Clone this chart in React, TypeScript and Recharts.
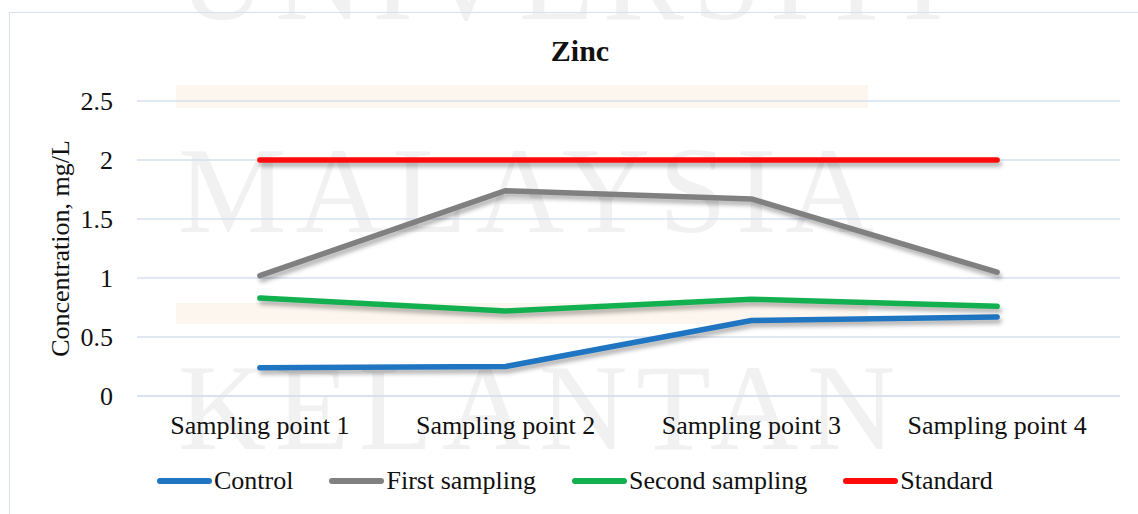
import React from 'react';
import { LineChart, Line, XAxis, YAxis, CartesianGrid, Legend } from 'recharts';

const categories = ['Sampling point 1', 'Sampling point 2', 'Sampling point 3', 'Sampling point 4'];
const control = [0.24, 0.25, 0.64, 0.67];
const firstSampling = [1.02, 1.74, 1.67, 1.05];
const secondSampling = [0.83, 0.72, 0.82, 0.76];
const standard = [2, 2, 2, 2];
const yTicks = [0, 0.5, 1, 1.5, 2, 2.5];
const boundaryTicks = [0, 1, 2, 3, 4];

const seriesDefs = [
  { key: 'Control', values: control, color: '#1f75c1' },
  { key: 'First sampling', values: firstSampling, color: '#808080' },
  { key: 'Second sampling', values: secondSampling, color: '#12b04f' },
  { key: 'Standard', values: standard, color: '#ff0a0a' },
];

const data = categories.map((c, i) => {
  const row: any = { name: c };
  seriesDefs.forEach((s) => (row[s.key] = s.values[i]));
  return row;
});

const FONT = '"Liberation Serif", "Times New Roman", serif';
const GRID = '#d6e0ef';

const LegendContent = () => (
  <div style={{ display: 'flex', alignItems: 'center', paddingLeft: 157, paddingTop: 10, fontFamily: FONT, fontSize: 26, color: '#111' }}>
    {seriesDefs.map((s, i) => (
      <div key={s.key} style={{ display: 'flex', alignItems: 'center', marginRight: i < 3 ? 36 : 0 }}>
        <div style={{ width: 55, height: 6, borderRadius: 3, background: s.color, marginRight: 2 }} />
        <span>{s.key}</span>
      </div>
    ))}
  </div>
);

const YLabel = (props: any) => {
  const vb = props.viewBox || {};
  const cx = 60;
  const cy = vb.y + vb.height / 2;
  return (
    <text x={cx} y={cy} transform={`rotate(-90, ${cx}, ${cy})`} textAnchor="middle" dominantBaseline="central"
      fontFamily={FONT} fontSize={26} fill="#111">
      Concentration, mg/L
    </text>
  );
};

const watermark: React.CSSProperties = {
  position: 'absolute', left: 178, fontFamily: FONT, fontSize: 122, color: '#f1f1f1',
  letterSpacing: 9, lineHeight: 1, whiteSpace: 'nowrap',
};

export default function App() {
  return (
    <div style={{ position: 'absolute', left: 0, top: 0, width: 1138, height: 514, background: '#fff', overflow: 'hidden' }}>
      <style>{`.recharts-line-curve { filter: drop-shadow(2px 4px 2px rgba(0,0,0,0.3)); }
.recharts-text, .recharts-cartesian-axis-tick-value { font-family: ${FONT}; }`}</style>
      <div style={{ position: 'absolute', left: 176, top: 85, width: 692, height: 23, background: '#fdf6ee' }} />
      <div style={{ position: 'absolute', left: 176, top: 303, width: 692, height: 21, background: '#fdf6ee' }} />
      <div style={{ ...watermark, top: 27 - 110 }}>UNIVERSITI</div>
      <div style={{ ...watermark, top: 240 - 110 }}>MALAYSIA</div>
      <div style={{ ...watermark, top: 457 - 110 }}>KELANTAN</div>
      <div style={{ position: 'absolute', left: 9, top: 12, width: 1140, height: 520, border: `1.5px solid ${GRID}` }} />
      <div style={{ position: 'absolute', left: 0, top: 34, width: 1160, textAlign: 'center', fontFamily: FONT, fontSize: 30, fontWeight: 'bold', color: '#111' }}>
        Zinc
      </div>
      <div style={{ position: 'absolute', left: 0, top: 0 }}>
        <LineChart width={1138} height={514} data={data} margin={{ top: 101, right: 18, bottom: 0, left: 0 }}>
          <CartesianGrid vertical={false} stroke={GRID} strokeWidth={1.5} />
          <XAxis xAxisId="bounds" type="number" domain={[0, 4]} ticks={boundaryTicks} tick={false}
            axisLine={false} tickLine={{ stroke: GRID, strokeWidth: 1.5 }} tickSize={6} height={0} />
          <XAxis dataKey="name" scale="band" tickLine={false} tickSize={0} tickMargin={20} height={60}
            axisLine={{ stroke: GRID, strokeWidth: 1.5 }}
            tick={{ fontFamily: FONT, fontSize: 26, fill: '#111' }} interval={0} />
          <YAxis domain={[0, 2.5]} ticks={yTicks} width={137} axisLine={false} tickLine={false} tickSize={6} tickMargin={18}
            tick={{ fontFamily: FONT, fontSize: 26, fill: '#111' }} label={<YLabel />} />
          <Legend verticalAlign="bottom" height={58} content={<LegendContent />} />
          {seriesDefs.map((s) => (
            <Line key={s.key} dataKey={s.key} stroke={s.color} strokeWidth={5.5} strokeLinecap="round" strokeLinejoin="round"
              dot={false} activeDot={false} isAnimationActive={false} />
          ))}
        </LineChart>
      </div>
    </div>
  );
}
